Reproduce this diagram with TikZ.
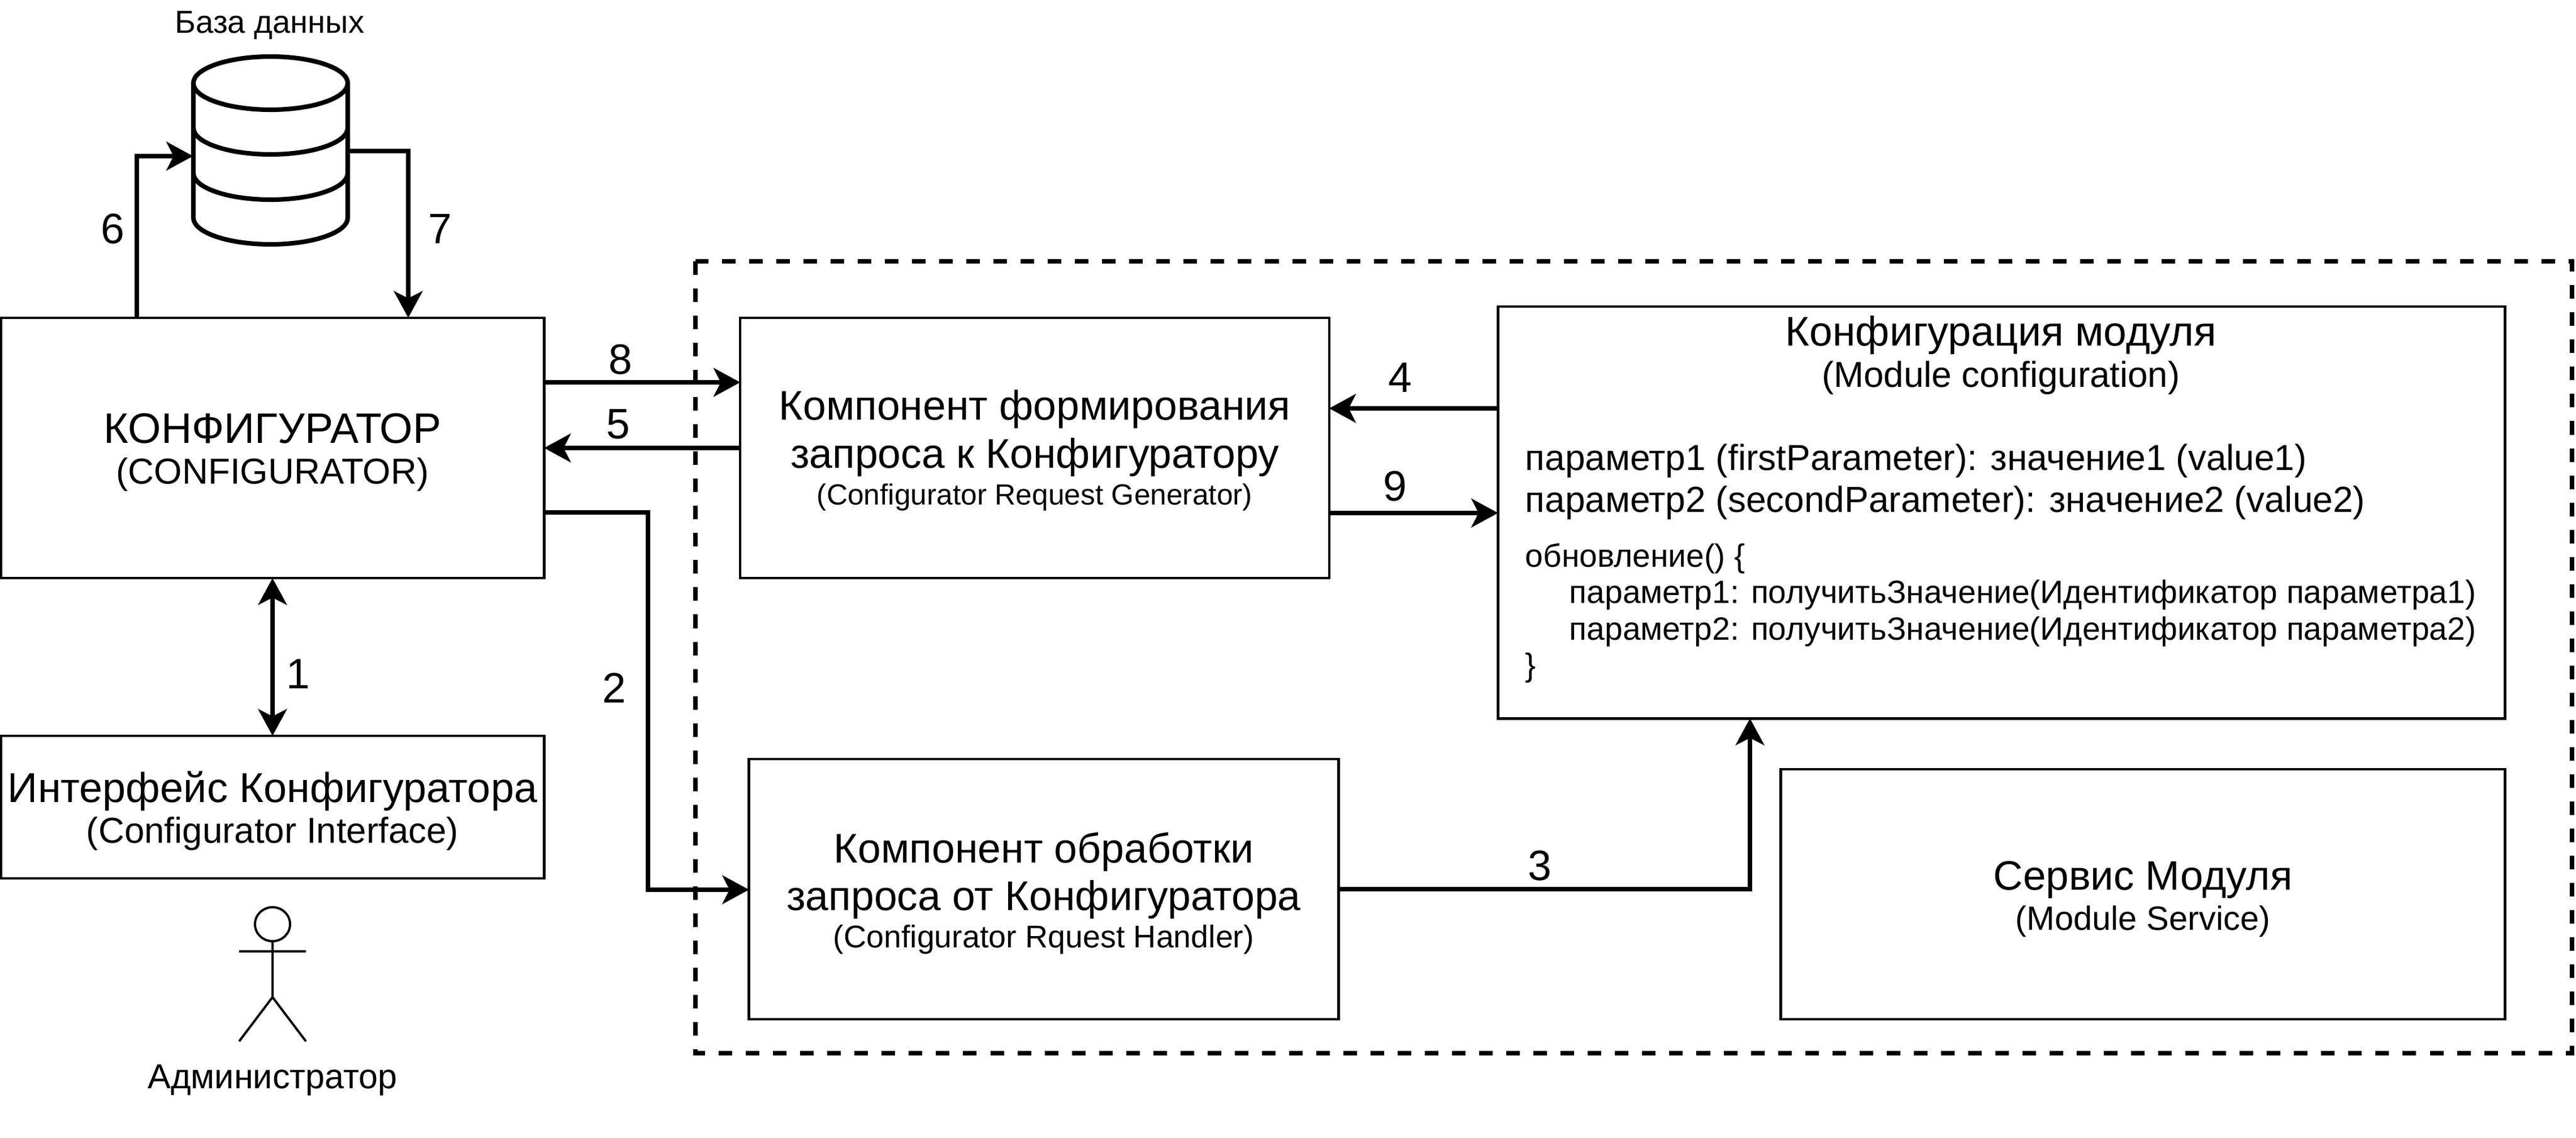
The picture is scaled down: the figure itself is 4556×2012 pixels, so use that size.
\documentclass[tikz,border=0pt]{standalone}
\usepackage{fontspec}
\setmainfont{Liberation Sans}
\usetikzlibrary{
    positioning,
    shapes.geometric,
    arrows.meta
    }

\newcommand{\fsize}[2]{\fontsize{#1}{#2}\selectfont}

\begin{document}
\begin{tikzpicture}[x=0.01cm, y=-0.01cm]
\tikzset{block/.style =
        {
            shape=rectangle,
            draw=black,
            line width=1.3pt,
            outer sep=0pt,
            inner sep=0pt,
            align=center
        }
}

\tikzset{flow/.style =
        {
            line width=2.3pt,
            -{Stealth[length=13.4pt, width=14.4pt, inset=3.6pt]}
        }
}

\tikzset{flow both/.style =
        {
            flow,
            {Stealth[length=13.4pt, width=14.4pt, inset=3.6pt]}-{Stealth[length=13.4pt, width=14.4pt, inset=3.6pt]}
        }
}

\tikzset{stepnum/.style = { font=\fsize{21.4}{24}, inner sep=0pt } }

\tikzset{caption/.style = { inner sep=0pt } }

\tikzset{codetext/.style = { inner sep=0pt, anchor=west, align=left } }

\tikzset{boundary/.style =
        {
            line width=2.3pt,
            dash pattern=on 6.83pt off 6.83pt
        }
}

\useasboundingbox (0,0) rectangle (4556,2012);

\draw[boundary] (1230,462) rectangle (4549,1862);

\node[block, minimum width=9.6cm, minimum height=4.6cm, text height=40pt, font=\fsize{21.4}{20.5}] (conf) at (482,792)
    {КОНФИГУРАТОР\\ \fsize{18.1}{20.5}(CONFIGURATOR)};
\node[block, minimum width=9.6cm, minimum height=2.52cm, text height=39.9pt, font=\fsize{21}{20.6}] (ui) at (482,1427)
    {Интерфейс Конфигуратора\\ \fsize{18.1}{20.6}(Configurator Interface)};
\node[block, minimum width=10.41cm, minimum height=4.6cm, text height=60.3pt, font=\fsize{20.85}{18.5}] (gen) at (1830,792)
    {Компонент формирования\\[3.7pt] запроса к Конфигуратору\\ \fsize{14.65}{18.5}(Configurator Request Generator)};
\node[block, minimum width=10.42cm, minimum height=4.6cm, text height=62.3pt, font=\fsize{20.85}{18.8}] (handler) at (1846,1572)
    {Компонент обработки\\[3.4pt] запроса от Конфигуратора\\ \fsize{15.8}{18.8}(Configurator Rquest Handler)};
\node[block, minimum width=17.8cm, minimum height=7.28cm] (module) at (3540,906) {};
\node[block, minimum width=12.8cm, minimum height=4.42cm, text height=39.5pt, font=\fsize{20.7}{20.2}] (service) at (3790,1581)
    {Сервис Модуля\\ \fsize{16.95}{20.2}(Module Service)};

\node[align=center, inner sep=0pt, font=\fsize{20.85}{20.8}] (title) at (3539,628)
    {Конфигурация модуля\\ \fsize{18.1}{20.8}(Module configuration)};
\node[codetext, font=\fsize{18.2}{20.8}] (params) at (2697,852)
    {параметр1 (firstParameter): значение1 (value1)\\ параметр2 (secondParameter): значение2 (value2)};
\node[codetext, font=\fsize{16.2}{18.3}] (code) at (2697,1084)
    {обновление() \{\\
    \hspace*{0.78cm}параметр1: получитьЗначение(Идентификатор параметра1)\\
    \hspace*{0.78cm}параметр2: получитьЗначение(Идентификатор параметра2)\\
    \}};

% database
\node[minimum width=2.73cm, minimum height=3.32cm, inner sep=0pt, outer sep=0pt] (db) at (478,266) {};
\draw[line width=2.3pt, fill=white] (342,147) arc [start angle=180, end angle=360, x radius=136.5, y radius=47]
    -- (615,385) arc [start angle=0, end angle=180, x radius=136.5, y radius=47] -- cycle;
\foreach \y in {147, 226, 306}
\draw[line width=2.3pt] (342,\y) arc [start angle=180, end angle=0, x radius=136.5, y radius=47];
\node[caption, font=\fsize{16}{18}] (dbname) at (477,45) {База данных};

% administrator
\node[draw, line width=1.14pt, shape=ellipse, minimum width=0.62cm, minimum height=0.6cm, inner sep=0pt, outer sep=0pt] (head) at (482,1634) {};
\coordinate (hip) at (482,1763);
\coordinate (armL) at (423,1682);
\coordinate (armR) at (541,1682);
\coordinate (footL) at (423,1841);
\coordinate (footR) at (541,1841);
\draw[line width=1.14pt] (head.south) -- (hip) (armL) -- (armR) (footL) -- (hip) -- (footR);
\node[caption, font=\fsize{17.4}{20}] (admin) at (482,1910) {Администратор};

\coordinate (c6) at (242,276);
\coordinate (c7) at (722,267);
\coordinate (c8) at (0,676);
\coordinate (c5) at (0,792);
\coordinate (c2) at (1146,906);
\coordinate (c2b) at (1146,1573);
\coordinate (c4) at (0,722);
\coordinate (c9) at (0,907);
\coordinate (c3) at (3095,1572);

\draw[flow] (c6 |- conf.north) -- (c6) -- (c6 -| db.west);
\draw[flow] (c7 -| db.east) -- (c7) -- (c7 |- conf.north);
\draw[flow] (c8 -| conf.east) -- (c8 -| gen.west);
\draw[flow] (c5 -| gen.west) -- (c5 -| conf.east);
\draw[flow] (c2 -| conf.east) -- (c2) -- (c2b) -- (c2b -| handler.west);
\draw[flow] (c4 -| module.west) -- (c4 -| gen.east);
\draw[flow] (c9 -| gen.east) -- (c9 -| module.west);
\draw[flow] (c3 -| handler.east) -- (c3) -- (c3 |- module.south);
\draw[flow both] (conf.south) -- (ui.north);

\foreach \num / \x / \y in
    {1/527/1192,
        2/1086/1216,
        3/2723/1531,
        4/2476/668,
        5/1093/750,
        6/199/405,
        7/778/405,
        8/1097/636,
        9/2467/860}
\node[stepnum] (num-\num) at (\x,\y) {\num};

\end{tikzpicture}
\end{document}
